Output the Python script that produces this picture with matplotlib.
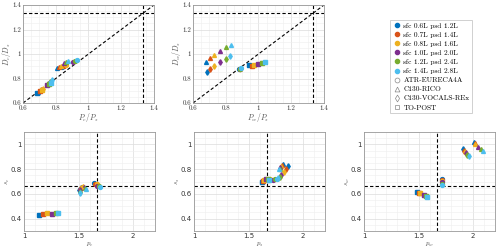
import matplotlib
matplotlib.use("Agg")
import numpy as np
import matplotlib.pyplot as plt
from matplotlib.lines import Line2D

plt.rcParams['mathtext.fontset'] = 'cm'
plt.rcParams['axes.formatter.use_mathtext'] = True

# colours for the six sfc/psd settings (MATLAB default order)
colors = ['#0072BD', '#D95319', '#EDB120', '#7E2F8E', '#77AC30', '#4DBEEE']
sfc_labels = ['sfc 0.6L psd 1.2L', 'sfc 0.7L psd 1.4L', 'sfc 0.8L psd 1.6L',
              'sfc 1.0L psd 2.0L', 'sfc 1.2L psd 2.4L', 'sfc 1.4L psd 2.8L']
campaigns = ['ATR-EURECA4A', 'C130-RICO', 'C130-VOCALS-REx', 'TO-POST']
markers = ['o', '^', 'd', 's']

# rows: ATR, RICO, VOCALS, TO-POST ; columns: the six settings
pc_ps = [[0.840, 0.852, 0.865, 0.905, 0.918, 0.930],
         [0.808, 0.820, 0.832, 0.848, 0.860, 0.875],
         [0.695, 0.708, 0.720, 0.752, 0.762, 0.775],
         [0.688, 0.703, 0.716, 0.748, 0.758, 0.768]]
dc_ds = [[0.895, 0.905, 0.912, 0.937, 0.945, 0.952],
         [0.885, 0.897, 0.905, 0.925, 0.935, 0.945],
         [0.690, 0.705, 0.716, 0.756, 0.768, 0.785],
         [0.680, 0.697, 0.710, 0.745, 0.755, 0.765]]

pw_ps = [[0.882, 0.884, 0.886, 0.887, 0.889, 0.891],
         [0.677, 0.702, 0.728, 0.763, 0.804, 0.832],
         [0.686, 0.706, 0.728, 0.767, 0.800, 0.826],
         [0.942, 0.960, 0.973, 1.000, 1.019, 1.038]]
dw_ds = [[0.877, 0.878, 0.879, 0.880, 0.881, 0.882],
         [0.936, 0.969, 0.993, 1.028, 1.056, 1.077],
         [0.852, 0.877, 0.901, 0.936, 0.961, 0.980],
         [0.909, 0.901, 0.909, 0.915, 0.923, 0.931]]

p_c = [[1.641, 1.653, 1.666, 1.672, 1.684, 1.696],
       [1.525, 1.535, 1.542, 1.548, 1.556, 1.565],
       [1.508, 1.514, 1.520, 1.516, 1.512, 1.510],
       [1.137, 1.170, 1.207, 1.261, 1.292, 1.313]]
s_c = [[0.686, 0.681, 0.676, 0.665, 0.662, 0.654],
       [0.652, 0.658, 0.660, 0.655, 0.648, 0.640],
       [0.628, 0.638, 0.648, 0.632, 0.618, 0.605],
       [0.432, 0.438, 0.443, 0.441, 0.443, 0.446]]

p_s = [[1.680, 1.690, 1.700, 1.720, 1.740, 1.760],
       [1.815, 1.805, 1.800, 1.790, 1.784, 1.775],
       [1.860, 1.845, 1.829, 1.799, 1.784, 1.770],
       [1.623, 1.632, 1.641, 1.663, 1.675, 1.690]]
s_s = [[0.712, 0.716, 0.718, 0.716, 0.720, 0.724],
       [0.838, 0.832, 0.826, 0.815, 0.805, 0.797],
       [0.824, 0.805, 0.778, 0.751, 0.737, 0.725],
       [0.697, 0.708, 0.716, 0.724, 0.720, 0.716]]

p_w = [[1.714, 1.712, 1.710, 1.711, 1.713, 1.716],
       [2.006, 2.015, 2.021, 2.046, 2.070, 2.091],
       [1.909, 1.918, 1.924, 1.930, 1.945, 1.960],
       [1.482, 1.503, 1.510, 1.552, 1.564, 1.573]]
s_w = [[0.719, 0.710, 0.702, 0.692, 0.682, 0.670],
       [1.016, 1.008, 1.000, 0.976, 0.962, 0.949],
       [0.959, 0.948, 0.940, 0.930, 0.916, 0.903],
       [0.616, 0.608, 0.604, 0.589, 0.581, 0.573]]

fs = 5
dash = (0, (3, 2))


def style(ax, xlim, ylim, xmaj, ymaj, xmin, ymin, serif):
    ax.set_xlim(xlim)
    ax.set_ylim(ylim)
    ax.set_xticks(np.arange(xlim[0], xlim[1] + 1e-9, xmaj))
    ax.set_yticks(np.arange(ylim[0] + (ymaj - ylim[0] % ymaj) % ymaj, ylim[1] + 1e-9, ymaj))
    ax.set_xticks(np.arange(xlim[0], xlim[1] + 1e-9, xmin), minor=True)
    ax.set_yticks(np.arange(ylim[0], ylim[1] + 1e-9, ymin), minor=True)
    ax.grid(which='major', color='#dcdcdc', lw=0.5)
    ax.grid(which='minor', color='#eeeeee', lw=0.4)
    ax.set_axisbelow(True)
    ax.tick_params(which='both', length=0, labelsize=fs, colors='#333333', pad=1.5)
    for lab in ax.get_xticklabels() + ax.get_yticklabels():
        lab.set_family('cmr10' if serif else 'DejaVu Sans')
    for s in ax.spines.values():
        s.set_color('#999999')
        s.set_linewidth(0.6)
    ax.xaxis.set_major_formatter(plt.FuncFormatter(lambda v, p: ('%g' % round(v, 2))))
    ax.yaxis.set_major_formatter(plt.FuncFormatter(lambda v, p: ('%g' % round(v, 2))))


def scatter(ax, xs, ys):
    for k, m in enumerate(markers):
        for j, c in enumerate(colors):
            ax.plot(xs[k][j], ys[k][j], marker=m, color=c, ms=2.8, mec=c, ls='none')


fig = plt.figure(figsize=(5, 2.5), dpi=100)

top = [([0.046, 0.588, 0.262, 0.392], pc_ps, dc_ds, r'$P_c/P_s$', r'$D_c/D_s$'),
       ([0.386, 0.588, 0.262, 0.392], pw_ps, dw_ds, r'$P_w/P_s$', r'$D_w/D_s$')]
for pos, xs, ys, xl, yl in top:
    ax = fig.add_axes(pos)
    style(ax, (0.6, 1.4), (0.6, 1.4), 0.2, 0.2, 0.05, 0.05, True)
    ax.plot([0.6, 1.4], [0.6, 1.4], color='k', lw=0.8, ls=dash)
    ax.axhline(4 / 3, color='k', lw=0.8, ls=dash)
    ax.axvline(4 / 3, color='k', lw=0.8, ls=dash)
    scatter(ax, xs, ys)
    ax.set_xlabel(xl, fontsize=5.5, labelpad=0, color='#555555')
    ax.set_ylabel(yl, fontsize=5.5, color='#555555')
    ax.yaxis.set_label_coords(-0.075, 0.5)

bottom = [([0.048, 0.076, 0.262, 0.396], p_c, s_c, r'$p_c$', r'$s_c$'),
          ([0.388, 0.076, 0.262, 0.396], p_s, s_s, r'$p_s$', r'$s_s$'),
          ([0.728, 0.076, 0.262, 0.396], p_w, s_w, r'$p_w$', r'$s_w$')]
for pos, xs, ys, xl, yl in bottom:
    ax = fig.add_axes(pos)
    style(ax, (1.0, 2.2), (0.3, 1.1), 0.5, 0.2, 0.1, 0.05, False)
    ax.axhline(2 / 3, color='k', lw=0.8, ls=dash)
    ax.axvline(5 / 3, color='k', lw=0.8, ls=dash)
    scatter(ax, xs, ys)
    ax.set_xlabel(xl, fontsize=5, labelpad=1, color='#555555')
    ax.set_ylabel(yl, fontsize=5, color='#555555')
    ax.yaxis.set_label_coords(-0.09, 0.5)

handles = [Line2D([], [], marker='o', color=c, mec=c, ms=3, ls='none') for c in colors]
handles += [Line2D([], [], marker=m, color='none', mec='#888888', mew=0.5, ms=3.5, ls='none')
            for m in markers]
leg = fig.legend(handles, sfc_labels + campaigns, loc='upper left',
                 bbox_to_anchor=(0.772, 0.935), frameon=True,
                 fancybox=False, edgecolor='#bbbbbb', handletextpad=0.3,
                 labelspacing=0.4, borderpad=0.35, handlelength=1.2,
                 prop={'family': 'cmr10', 'size': 5.3})
leg.get_frame().set_linewidth(0.6)

fig.savefig('out.png', dpi=100)
